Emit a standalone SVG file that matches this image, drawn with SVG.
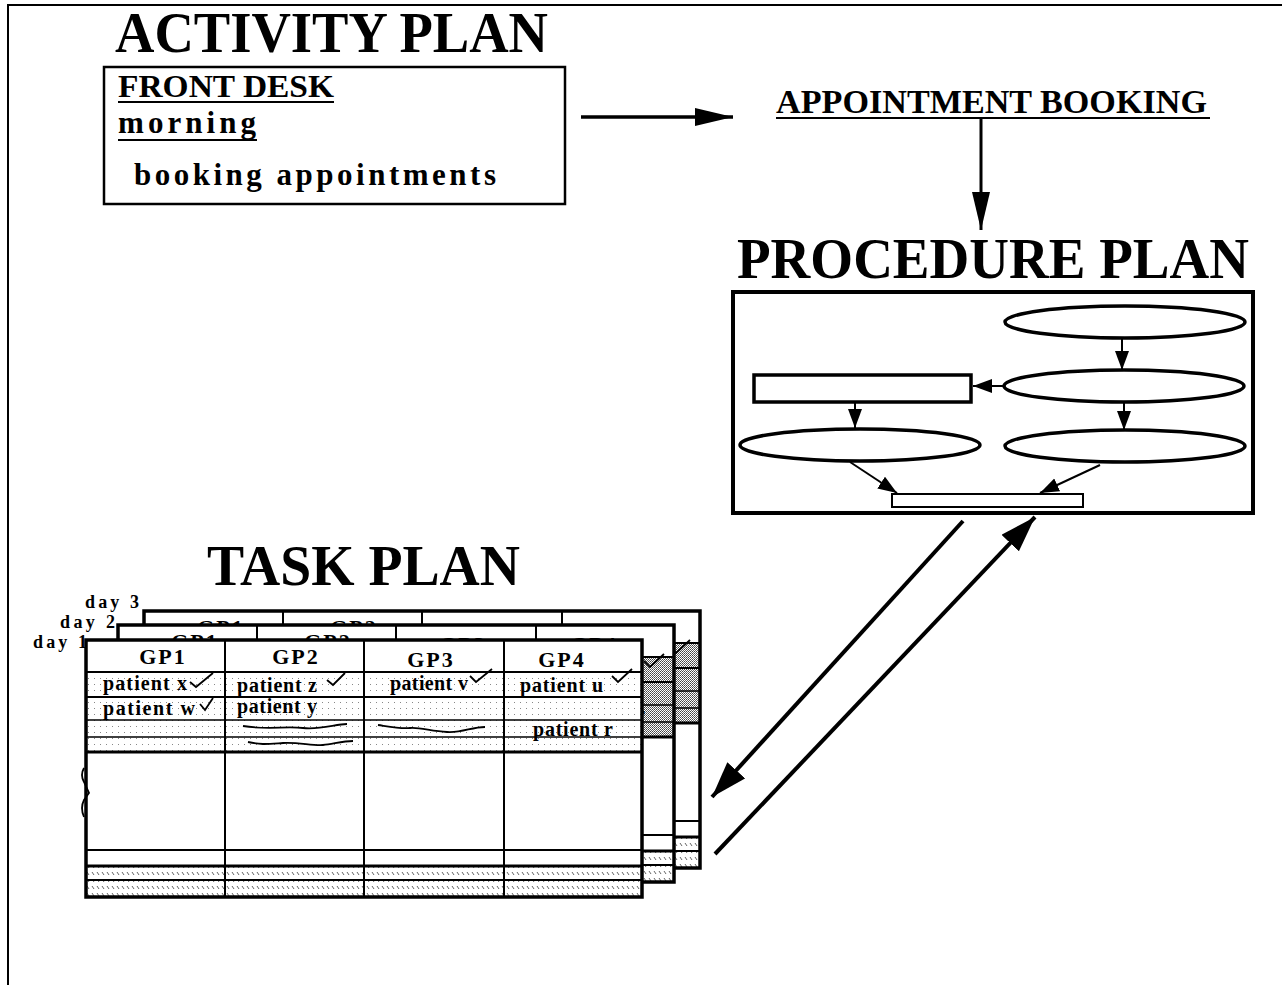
<svg xmlns="http://www.w3.org/2000/svg" width="1282" height="985" viewBox="0 0 1282 985">
<style>
text{font-family:"Liberation Serif","Times New Roman",serif;font-weight:bold;fill:#000}
.title{font-size:56px}
.box{font-size:31px}
.hd{font-size:22px}
.pt{font-size:20px}
.day{font-size:18px}
.ln{stroke:#000;fill:none}
.node{fill:#fff;stroke:#000}
</style>
<defs>
<pattern id="dots" width="6" height="6" patternUnits="userSpaceOnUse"><rect width="6" height="6" fill="#fff"/><rect x="2" y="2" width="1" height="1" fill="#888"/></pattern>
<pattern id="stip" width="2" height="2" patternUnits="userSpaceOnUse"><rect width="2" height="2" fill="#fff"/><rect width="1" height="1" fill="#444"/><rect x="1" y="1" width="1" height="1" fill="#666"/></pattern>
<pattern id="hatch" width="5" height="7" patternUnits="userSpaceOnUse"><rect width="5" height="7" fill="#fff"/><path d="M1,1 L3,4" stroke="#666" stroke-width="1"/></pattern>
<marker id="big" markerUnits="userSpaceOnUse" markerWidth="40" markerHeight="20" refX="38" refY="9" orient="auto"><path d="M0,0 L38,9 L0,18 z" fill="#000"/></marker>
<marker id="diag" markerUnits="userSpaceOnUse" markerWidth="40" markerHeight="26" refX="36" refY="12" orient="auto"><path d="M0,0 L36,12 L0,24 z" fill="#000"/></marker>
<marker id="sm" markerUnits="userSpaceOnUse" markerWidth="22" markerHeight="16" refX="19" refY="7" orient="auto"><path d="M0,0 L19,7 L0,14 z" fill="#000"/></marker>
<g id="tbl">
<rect x="0" y="0" width="556" height="257" fill="#fff"/>
<rect x="0" y="32" width="556" height="80"/>
<rect x="0" y="226" width="556" height="31" fill="url(#hatch)"/>
<g class="ln">
<path d="M0,32 H556 M0,57 H556" stroke-width="2"/>
<path d="M0,80 H556 M0,97 H556" stroke-width="1.5"/>
<path d="M0,112 H556 M0,226 H556" stroke-width="3"/>
<path d="M0,210 H556 M0,240 H556" stroke-width="2"/>
<path d="M139,0 V257 M278,0 V257 M418,0 V257" stroke-width="2"/>
</g>
<text class="hd" x="77" y="24" text-anchor="middle" letter-spacing="2">GP1</text>
<text class="hd" x="210" y="24" text-anchor="middle" letter-spacing="2">GP2</text>
<text class="hd" x="345" y="27" text-anchor="middle" letter-spacing="2">GP3</text>
<text class="hd" x="476" y="27" text-anchor="middle" letter-spacing="2">GP4</text>
<text class="pt" x="17" y="50" textLength="84">patient x</text>
<text class="pt" x="151" y="52" textLength="80">patient z</text>
<text class="pt" x="17" y="75" textLength="92">patient w</text>
<text class="pt" x="151" y="73" textLength="80">patient y</text>
<text class="pt" x="304" y="50" textLength="78">patient v</text>
<text class="pt" x="434" y="52" textLength="83">patient u</text>
<text class="pt" x="447" y="96" textLength="80">patient r</text>
<g class="ln" stroke-width="1.8">
<path d="M104,42 L110,47 L127,33"/>
<path d="M241,40 L247,45 L259,33"/>
<path d="M114,64 L119,70 L127,58"/>
<path d="M384,36 L390,42 L406,29"/>
<path d="M526,36 L532,42 L546,29"/>
<path d="M157,86 C180,90 200,86 217,88 S250,84 261,84"/>
<path d="M162,102 C175,105 182,104 197,103 S227,106 237,105 S257,101 267,101"/>
<path d="M292,85 C305,87 315,89 324,88 S345,91 361,92 S385,87 399,87"/>
</g>
<rect x="0" y="0" width="556" height="257" fill="none" stroke="#000" stroke-width="3.5"/>
</g>
</defs>

<path d="M8,985 V5 H1282" class="ln" stroke-width="2"/>

<g id="activity-plan">
<text class="title" x="115" y="52" textLength="433" lengthAdjust="spacingAndGlyphs">ACTIVITY PLAN</text>
<rect x="104" y="67" width="461" height="137" class="node" stroke-width="2.5"/>
<text class="box" x="118" y="97" textLength="216" lengthAdjust="spacingAndGlyphs">FRONT DESK</text>
<path d="M118,102 H334" class="ln" stroke-width="2"/>
<text class="box" x="118" y="133" textLength="138" lengthAdjust="spacing">morning</text>
<path d="M118,140 H257" class="ln" stroke-width="2"/>
<text class="box" x="134" y="185" textLength="362" lengthAdjust="spacing">booking  appointments</text>
</g>

<g id="appointment-booking">
<text x="776" y="113" textLength="431" lengthAdjust="spacingAndGlyphs" style="font-size:34px">APPOINTMENT BOOKING</text>
<path d="M776,118 H1210" class="ln" stroke-width="2"/>
</g>

<g id="procedure-plan">
<text class="title" x="737" y="278" textLength="512" lengthAdjust="spacingAndGlyphs">PROCEDURE PLAN</text>
<rect x="733" y="292" width="520" height="221" class="node" stroke-width="4"/>
<ellipse cx="1125" cy="322" rx="120" ry="16" class="node" stroke-width="3.5"/>
<ellipse cx="1124" cy="386" rx="120" ry="16" class="node" stroke-width="3.5"/>
<rect x="754" y="375" width="217" height="27" class="node" stroke-width="3.5"/>
<ellipse cx="860" cy="445" rx="120" ry="16" class="node" stroke-width="3.5"/>
<ellipse cx="1125" cy="446" rx="120" ry="16" class="node" stroke-width="3.5"/>
<rect x="892" y="494" width="191" height="13" class="node" stroke-width="2"/>
</g>

<g id="task-plan">
<text class="title" x="207" y="585" textLength="313" lengthAdjust="spacingAndGlyphs">TASK PLAN</text>
<text class="day" x="85" y="608" textLength="54">day 3</text>
<text class="day" x="60" y="628" textLength="55">day 2</text>
<text class="day" x="33" y="648" textLength="54">day 1</text>
<use href="#tbl" transform="translate(144,611)" fill="url(#stip)"/>
<use href="#tbl" transform="translate(118,625)" fill="url(#stip)"/>
<use href="#tbl" transform="translate(86,640)" fill="url(#dots)"/>
<path d="M84,768 Q80,775 84,782 L89,793 L84,800 Q80,808 84,817" class="ln" stroke-width="1.8"/>
</g>

<g id="connectors" class="ln">
<path d="M581,117 H733" stroke-width="3.5" marker-end="url(#big)"/>
<path d="M981,118 V230" stroke-width="3" marker-end="url(#big)"/>
<path d="M1122,339 V370" stroke-width="2" marker-end="url(#sm)"/>
<path d="M1003,386 H973" stroke-width="2" marker-end="url(#sm)"/>
<path d="M855,402 V428" stroke-width="2" marker-end="url(#sm)"/>
<path d="M1124,403 V430" stroke-width="2" marker-end="url(#sm)"/>
<path d="M850,462 L897,493" stroke-width="2" marker-end="url(#sm)"/>
<path d="M1100,465 L1040,493" stroke-width="2" marker-end="url(#sm)"/>
<path d="M963,521 L712,797" stroke-width="4" marker-end="url(#diag)"/>
<path d="M715,854 L1035,517" stroke-width="4" marker-end="url(#diag)"/>
</g>
</svg>
